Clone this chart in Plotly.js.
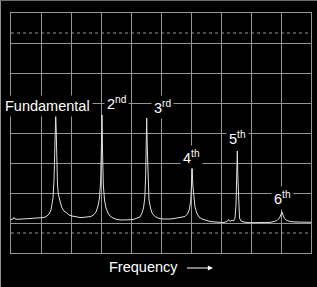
<!DOCTYPE html>
<html><head><meta charset="utf-8">
<script src="https://cdn.plot.ly/plotly-3.0.1.min.js"></script>
<style>html,body{margin:0;padding:0;background:#000;}#chart{width:317px;height:287px;}</style>
</head><body><div id="chart"></div>
<script>
// Frequency (screen divisions: 30 units per grid division)
const freq = [0,2,3,4,7,11,15,19,24,29,33,36,38,40,41,42,43,43.8,44.3,44.7,45.2,45.8,46.5,47.5,48.5,49.5,51,53,55.7,58,61,65,69,73,77,80,83,85,87,88.5,89.7,90.5,91,91.5,92.3,93.5,95,97,99,102,106,110,114,118,122,126,129,131,132.5,133.8,134.7,135.3,135.7,136.2,137,138,139.5,141,144,147,151,155,159,163,167,171,174,176.5,178.5,179.8,180.6,181.2,181.8,182.8,184,185.7,188,191,195,199,204,209,213,216,217.5,219,221,222.5,224,225,225.8,226.3,226.8,227.5,228.5,230,234,239,244,249,254,259,263,266,268.5,270,271,272,273.5,276,279,284,289,294,299,300];
// Amplitude
const amp = [33.5,34,35.5,34,33.7,34,33.8,34.2,34.5,34.7,35.5,37,39,43,48,55,73,103,128,138,123,93,68,58,55,50,45,42,40,38,37,36,35.5,35.7,36,36.5,38.5,41,47,55,73,103,138,103,68,53,45,40,37,35,33.5,33,32.8,33.2,33.5,34.5,36,40,45,55,78,113,135,108,68,53,45,40,36.5,35,34,33.7,34,34.5,35,35.5,36.5,39,44,53,68,85,68,53,46,40,36,34,32.5,31.5,31,30.7,30.5,31.5,33.5,31.5,33,32,35,48,78,102,78,48,35,32,30.7,30.3,30.2,30.3,30.4,30.6,31.5,32.5,35,38,41,38,34.5,32.5,31.5,31,30.8,31,30.7,30.7];
// Dashed reference levels
const refLevels = [220, 20];
// Harmonic labels
const labelText = ["Fundamental","2<sup>nd</sup>","3<sup>rd</sup>","4<sup>th</sup>","5<sup>th</sup>","6<sup>th</sup>"];
const labelX = [0.122,0.35,0.505,0.6017,0.755,0.905];
const labelY = [0.6125,0.625,0.608,0.398,0.481,0.231];
const xTitle = "Frequency";

const FONT = "Liberation Sans, Arial, sans-serif";
const data = [{
  x: freq, y: amp, type: 'scatter', mode: 'lines',
  line: {color: '#e0e0e0', width: 1}, hoverinfo: 'skip', showlegend: false
}];
const shapes = refLevels.map(v => ({
  type: 'line', xref: 'paper', yref: 'y', x0: 0, x1: 1, y0: v, y1: v,
  line: {color: '#969696', width: 1, dash: '3px,3px'}
}));
shapes.push({type:'line', xref:'paper', yref:'paper', x0:-0.035, x1:-0.035, y0:-0.2, y1:1.06, line:{color:'#909090', width:1}});
shapes.push({type:'line', xref:'paper', yref:'paper', x0:-0.04, x1:1.03, y0:1.052, y1:1.052, line:{color:'#707070', width:1}});
const annotations = labelText.map((t,i) => ({
  text: t, xref: 'paper', yref: 'paper', x: labelX[i], y: labelY[i],
  xanchor: 'center', yanchor: 'middle', showarrow: false,
  bgcolor: '#000', borderpad: 2,
  font: {family: FONT, size: 14.5, color: '#ffffff'}
}));
annotations.push({text: xTitle, xref:'paper', yref:'paper', x:0.443, y:-0.058,
  xanchor:'center', yanchor:'middle', showarrow:false,
  font:{family: FONT, size: 14.5, color:'#ffffff'}});
annotations.push({text:' ', xref:'paper', yref:'paper', x:0.673, y:-0.0625,
  ax:-29, ay:0, showarrow:true, arrowhead:2, arrowsize:1, arrowwidth:1, arrowcolor:'#ffffff'});

const axisCommon = {showgrid:true, gridcolor:'#969696', gridwidth:1, zeroline:false,
  showline:true, linecolor:'#969696', linewidth:1, mirror:true, ticks:'', showticklabels:false, fixedrange:true};
const layout = {
  width:317, height:287, margin:{l:11, r:6, t:13, b:34, pad:0},
  paper_bgcolor:'#000', plot_bgcolor:'#000',
  xaxis: Object.assign({range:[0,300], dtick:30, tick0:0}, axisCommon),
  yaxis: Object.assign({range:[0,240], dtick:30, tick0:0}, axisCommon),
  shapes: shapes, annotations: annotations, showlegend:false
};
Plotly.newPlot('chart', data, layout, {staticPlot:true, displayModeBar:false});
</script></body></html>
